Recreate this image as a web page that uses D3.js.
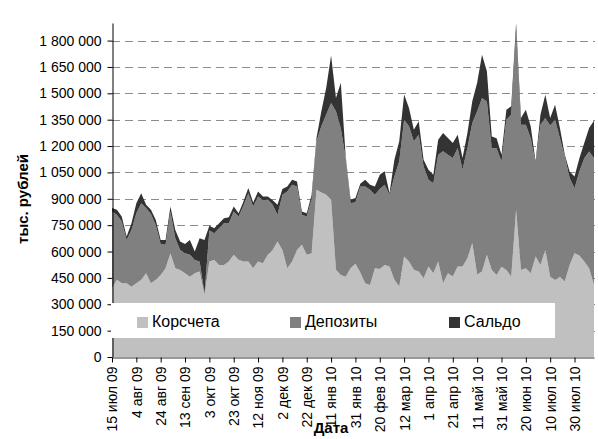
<!DOCTYPE html>
<html>
<head>
<meta charset="utf-8">
<script src="https://cdn.jsdelivr.net/npm/d3@7"></script>
<style>
  body { margin: 0; background: #fff; }
  svg { display: block; font-family: "Liberation Sans", Arial, sans-serif; }
</style>
</head>
<body>
<svg></svg>
<script>
// one reading every 4 days, тыс. рублей
const DATES = [
  "2009-07-15","2009-07-19","2009-07-23","2009-07-27","2009-07-31","2009-08-04","2009-08-08","2009-08-12","2009-08-16","2009-08-20",
  "2009-08-24","2009-08-28","2009-09-01","2009-09-05","2009-09-09","2009-09-13","2009-09-17","2009-09-21","2009-09-25","2009-09-29",
  "2009-10-03","2009-10-07","2009-10-11","2009-10-15","2009-10-19","2009-10-23","2009-10-27","2009-10-31","2009-11-04","2009-11-08",
  "2009-11-12","2009-11-16","2009-11-20","2009-11-24","2009-11-28","2009-12-02","2009-12-06","2009-12-10","2009-12-14","2009-12-18",
  "2009-12-22","2009-12-26","2009-12-30","2010-01-03","2010-01-07","2010-01-11","2010-01-15","2010-01-19","2010-01-23","2010-01-27",
  "2010-01-31","2010-02-04","2010-02-08","2010-02-12","2010-02-16","2010-02-20","2010-02-24","2010-02-28","2010-03-04","2010-03-08",
  "2010-03-12","2010-03-16","2010-03-20","2010-03-24","2010-03-28","2010-04-01","2010-04-05","2010-04-09","2010-04-13","2010-04-17",
  "2010-04-21","2010-04-25","2010-04-29","2010-05-03","2010-05-07","2010-05-11","2010-05-15","2010-05-19","2010-05-23","2010-05-27",
  "2010-05-31","2010-06-04","2010-06-08","2010-06-12","2010-06-16","2010-06-20","2010-06-24","2010-06-28","2010-07-02","2010-07-06",
  "2010-07-10","2010-07-14","2010-07-18","2010-07-22","2010-07-26","2010-07-30","2010-08-03","2010-08-07","2010-08-11","2010-08-15"
];

const KORSCHETA = [
  391000,439000,419000,419000,400000,419000,439000,476000,419000,439000,
  467000,505000,590000,505000,495000,476000,457000,476000,486000,353000,
  543000,552000,524000,524000,543000,581000,553000,543000,543000,505000,
  543000,533000,581000,609000,657000,609000,505000,543000,609000,638000,
  581000,590000,951000,936000,923000,894000,496000,467000,457000,505000,
  530000,481000,420000,410000,505000,500000,524000,515000,439000,401000,
  572000,543000,496000,486000,448000,515000,477000,543000,420000,477000,
  458000,515000,515000,562000,648000,470000,486000,581000,495000,467000,
  514000,495000,457000,837000,495000,505000,476000,571000,524000,609000,
  457000,438000,457000,429000,524000,590000,577000,543000,505000,410000
];

const DEPOZITY = [
  437000,370000,352000,247000,323000,399000,436000,371000,395000,311000,
  176000,133000,238000,171000,114000,114000,124000,76000,57000,10000,
  176000,152000,209000,237000,218000,247000,246000,317000,389000,351000,
  370000,358000,313000,257000,152000,314000,437000,437000,361000,171000,
  218000,308000,276000,376000,456000,551000,902000,833000,675000,370000,
  350000,489000,550000,541000,418000,455000,456000,408000,588000,712000,
  778000,769000,731000,779000,636000,493000,512000,608000,750000,674000,
  674000,674000,550000,627000,683000,927000,987000,873000,693000,721000,
  598000,855000,921000,1013000,826000,816000,769000,532000,797000,750000,
  860000,912000,788000,712000,494000,370000,478000,588000,664000,721000
];

const SALDO = [
  19000,28000,28000,19000,38000,57000,57000,19000,23000,30000,
  23000,28000,28000,47000,48000,53000,85000,48000,133000,303000,
  27000,29000,28000,29000,34000,28000,19000,25000,29000,23000,
  29000,22000,19000,25000,57000,32000,28000,28000,29000,19000,
  19000,25000,19000,86000,152000,270000,76000,260000,9000,19000,
  25000,16000,38000,29000,47000,82000,76000,9000,95000,114000,
  143000,105000,66000,76000,38000,57000,48000,85000,104000,95000,
  85000,76000,67000,85000,124000,163000,247000,171000,67000,57000,
  38000,57000,48000,50000,38000,86000,67000,9000,57000,133000,
  42000,85000,57000,9000,37000,67000,76000,86000,133000,213000
];

const SERIES_NAMES = ["Корсчета", "Депозиты", "Сальдо"];

const TICK_DATES = [
  "2009-07-15","2009-08-04","2009-08-24","2009-09-13","2009-10-03","2009-10-23","2009-11-12",
  "2009-12-02","2009-12-22","2010-01-11","2010-01-31","2010-02-20","2010-03-12","2010-04-01",
  "2010-04-21","2010-05-11","2010-05-31","2010-06-20","2010-07-10","2010-07-30"
];
const TICK_LABELS = [
  "15 июл 09","4 авг 09","24 авг 09","13 сен 09","3 окт 09","23 окт 09","12 ноя 09",
  "2 дек 09","22 дек 09","11 янв 10","31 янв 10","20 фев 10","12 мар 10","1 апр 10",
  "21 апр 10","11 май 10","31 май 10","20 июн 10","10 июл 10","30 июл 10"
];
const Y_TICKS = [0,150000,300000,450000,600000,750000,900000,1050000,1200000,1350000,1500000,1650000,1800000];
const Y_MAX = 1900000;

const COLORS = ["#c0c0c0", "#808080", "#333333"];

const WIDTH = 598, HEIGHT = 439;
const PLOT = {left: 112, right: 595, top: 23, bottom: 357};

const parseDate = d3.utcParse("%Y-%m-%d");
const keys = ["k", "d", "s"];

// table for the stack layout
const rows = DATES.map((dt, i) => ({
  date: parseDate(dt), k: KORSCHETA[i], d: DEPOZITY[i], s: SALDO[i]
}));

const x = d3.scaleUtc()
  .domain([rows[0].date, rows[rows.length - 1].date])
  .range([PLOT.left, PLOT.right - 1]);
const y = d3.scaleLinear().domain([0, Y_MAX]).range([PLOT.bottom, PLOT.top]);

const ruFmt = d3.formatLocale({decimal: ",", thousands: " ", grouping: [3], currency: ["", ""]}).format(",");

const svg = d3.select("svg").attr("width", WIDTH).attr("height", HEIGHT);

svg.append("clipPath").attr("id", "plot-clip")
  .append("rect")
  .attr("x", PLOT.left).attr("y", PLOT.top)
  .attr("width", PLOT.right - PLOT.left).attr("height", PLOT.bottom - PLOT.top);

// dashed grid lines behind the areas
svg.append("g")
  .selectAll("line")
  .data(Y_TICKS.filter(t => t > 0))
  .enter()
  .append("line")
  .attr("x1", PLOT.left).attr("x2", PLOT.right)
  .attr("y1", d => Math.round(y(d)) + 0.5).attr("y2", d => Math.round(y(d)) + 0.5)
  .attr("stroke", "#8c8c8c")
  .attr("stroke-dasharray", "8,5");

const stacked = d3.stack().keys(keys)(rows);

const area = d3.area()
  .x(d => x(d.data.date))
  .y0(d => y(d[0]))
  .y1(d => y(d[1]));

svg.append("g").attr("clip-path", "url(#plot-clip)")
  .selectAll("path")
  .data(stacked)
  .enter()
  .append("path")
  .attr("fill", (d, i) => COLORS[i])
  .attr("d", area);

// y axis
const yAxis = svg.append("g")
  .attr("transform", `translate(${PLOT.left + 0.5},0)`)
  .call(d3.axisLeft(y).tickValues(Y_TICKS).tickSize(5).tickSizeOuter(0).tickPadding(6).tickFormat(ruFmt));
yAxis.select(".domain").attr("stroke", "#000");
yAxis.selectAll("text").attr("font-size", 14).attr("fill", "#000").attr("font-family", "Liberation Sans, Arial, sans-serif");

// x axis with vertical labels
const tickDates = TICK_DATES.map(parseDate);
const xAxis = svg.append("g")
  .attr("transform", `translate(0,${PLOT.bottom + 0.5})`)
  .call(d3.axisBottom(x).tickValues(tickDates).tickSize(5).tickSizeOuter(0)
    .tickFormat((d, i) => TICK_LABELS[i]));
xAxis.select(".domain").attr("stroke", "#333");
xAxis.selectAll("text")
  .attr("font-size", 14).attr("fill", "#000")
  .attr("font-family", "Liberation Sans, Arial, sans-serif")
  .attr("transform", "rotate(-90)")
  .attr("text-anchor", "end")
  .attr("x", -9).attr("y", 0).attr("dy", "0.35em");

// legend box sits on top of the chart
const legend = svg.append("g");
legend.append("rect")
  .attr("x", 111).attr("y", 303).attr("width", 444).attr("height", 35)
  .attr("fill", "#fff");
const legendX = [137, 290, 449];
SERIES_NAMES.forEach((name, i) => {
  legend.append("rect")
    .attr("x", legendX[i]).attr("y", 317).attr("width", 11).attr("height", 11)
    .attr("fill", COLORS[i]);
  legend.append("text")
    .attr("x", legendX[i] + 15).attr("y", 327)
    .attr("font-size", 16)
    .text(name);
});

// axis titles
svg.append("text")
  .attr("transform", "translate(28,199) rotate(-90)")
  .attr("text-anchor", "middle")
  .attr("font-size", 15).attr("font-weight", "bold")
  .text("тыс. рублей");

svg.append("text")
  .attr("x", 331).attr("y", 433)
  .attr("text-anchor", "middle")
  .attr("font-size", 15).attr("font-weight", "bold")
  .text("Дата");
</script>
</body>
</html>
